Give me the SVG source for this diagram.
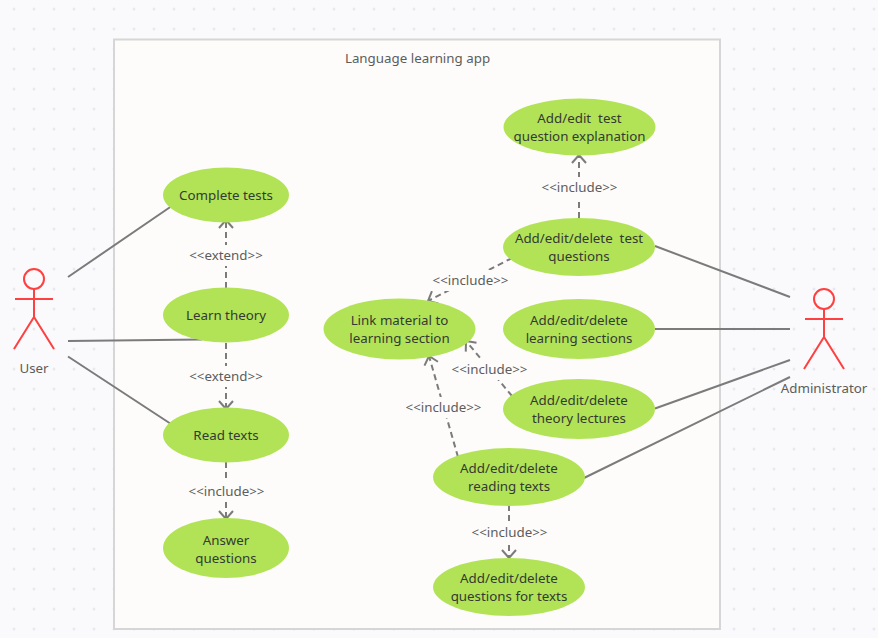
<svg xmlns="http://www.w3.org/2000/svg" width="878" height="638" viewBox="0 0 878 638">
<style>
.n ellipse{fill:#b2e356}
text{font-family:"Noto Sans","Open Sans",sans-serif;font-size:13.33px;text-anchor:middle;white-space:pre}
.n text{fill:#333a33}
.l{fill:#5c5c5c}
.s{stroke:#7b7b7b;stroke-width:2;fill:none}
.d{stroke-dasharray:6 4}
.a{stroke:#ff4040;stroke-width:2;fill:none}
</style>
<defs>
<pattern id="dots" width="20" height="20" patternUnits="userSpaceOnUse" x="4" y="-1"><circle cx="10" cy="10" r="1.5" fill="#e8e9ee"/></pattern>
<marker id="arr" markerUnits="userSpaceOnUse" markerWidth="18" markerHeight="18" refX="13" refY="9" orient="auto"><path d="M5 2L13 9L5 16" fill="none" stroke="#7b7b7b" stroke-width="2"/></marker>
</defs>
<rect width="878" height="638" fill="#fafafd"/>
<rect width="878" height="638" fill="url(#dots)"/>
<g id="boundary"><rect x="114" y="39.500" width="606" height="589.500" fill="#fdfcfb" stroke="#d6d6d6" stroke-width="2"/><text class="l" x="417.500" y="63">Language learning app</text></g>
<g id="connectors">
<path class="s" d="M68 277L171 206.500M68 341L202 339.500M68 356.500L171 424M655 246L790 297M655 329H790M655 408.500L790 360M584 478L790 377"/>
<path class="s d" d="M226 288V220" marker-end="url(#arr)" />
<path class="s d" d="M226 343V409" marker-end="url(#arr)" />
<path class="s d" d="M226 462V519" marker-end="url(#arr)"/>
<path class="s d" d="M579 218V155" marker-end="url(#arr)"/>
<path class="s d" d="M512 258L428 301" marker-end="url(#arr)"/>
<path class="s d" d="M512 396L466 341" marker-end="url(#arr)"/>
<path class="s d" d="M458 457L429 356" marker-end="url(#arr)"/>
<path class="s d" d="M509 505V558" marker-end="url(#arr)"/>
<g>
<rect x="185" y="245" width="82" height="21" fill="#fdfcfb"/><text class="l" x="226" y="260">&lt;&lt;extend&gt;&gt;</text>
<rect x="185" y="366" width="82" height="21" fill="#fdfcfb"/><text class="l" x="226" y="381">&lt;&lt;extend&gt;&gt;</text>
<rect x="185" y="481" width="82" height="21" fill="#fdfcfb"/><text class="l" x="226.500" y="496">&lt;&lt;include&gt;&gt;</text>
<rect x="538" y="177" width="82" height="21" fill="#fdfcfb"/><text class="l" x="579.500" y="192">&lt;&lt;include&gt;&gt;</text>
<rect x="430" y="270" width="82" height="21" fill="#fdfcfb"/><text class="l" x="470.500" y="285">&lt;&lt;include&gt;&gt;</text>
<rect x="449" y="359" width="82" height="21" fill="#fdfcfb"/><text class="l" x="489.500" y="374">&lt;&lt;include&gt;&gt;</text>
<rect x="403" y="397" width="82" height="21" fill="#fdfcfb"/><text class="l" x="443.500" y="412">&lt;&lt;include&gt;&gt;</text>
<rect x="469" y="522" width="82" height="21" fill="#fdfcfb"/><text class="l" x="509.500" y="537">&lt;&lt;include&gt;&gt;</text>
</g>
</g>
<g id="user"><circle class="a" cx="34" cy="279" r="10"/><path class="a" d="M34 289V317M15 299H53M34 317L14 349M34 317L54 349"/><text class="l" x="34" y="373">User</text></g>
<g id="administrator"><circle class="a" cx="824" cy="299" r="10"/><path class="a" d="M824 309V337M805 319H843M824 337L804 369M824 337L844 369"/><text class="l" x="824" y="393">Administrator</text></g>
<g class="n" id="complete-tests"><ellipse cx="226" cy="195" rx="63" ry="27.500"/><text x="226" y="200">Complete tests</text></g>
<g class="n" id="learn-theory"><ellipse cx="226" cy="315" rx="63" ry="27.500"/><text x="226" y="320">Learn theory</text></g>
<g class="n" id="read-texts"><ellipse cx="226" cy="435" rx="63" ry="27.500"/><text x="226" y="440">Read texts</text></g>
<g class="n" id="answer-questions"><ellipse cx="226" cy="548" rx="63" ry="30"/><text x="226" y="545">Answer</text><text x="226" y="563">questions</text></g>
<g class="n" id="link-material"><ellipse cx="399.500" cy="329" rx="76" ry="30.500"/><text x="399.500" y="325">Link material to</text><text x="399.500" y="343">learning section</text></g>
<g class="n" id="add-explanation"><ellipse cx="579.500" cy="127" rx="76" ry="28.500"/><text x="579.500" y="123">Add/edit  test</text><text x="579.500" y="141">question explanation</text></g>
<g class="n" id="add-test-questions"><ellipse cx="579" cy="247" rx="76" ry="29"/><text x="579" y="243">Add/edit/delete  test</text><text x="579" y="261">questions</text></g>
<g class="n" id="add-sections"><ellipse cx="579" cy="329" rx="76" ry="30"/><text x="579" y="325">Add/edit/delete</text><text x="579" y="343">learning sections</text></g>
<g class="n" id="add-lectures"><ellipse cx="579" cy="409" rx="76" ry="30"/><text x="579" y="405">Add/edit/delete</text><text x="579" y="423">theory lectures</text></g>
<g class="n" id="add-reading"><ellipse cx="509" cy="477" rx="76" ry="29"/><text x="509" y="473">Add/edit/delete</text><text x="509" y="491">reading texts</text></g>
<g class="n" id="add-questions-texts"><ellipse cx="509" cy="587" rx="76" ry="29"/><text x="509" y="583">Add/edit/delete</text><text x="509" y="601">questions for texts</text></g>
</svg>
